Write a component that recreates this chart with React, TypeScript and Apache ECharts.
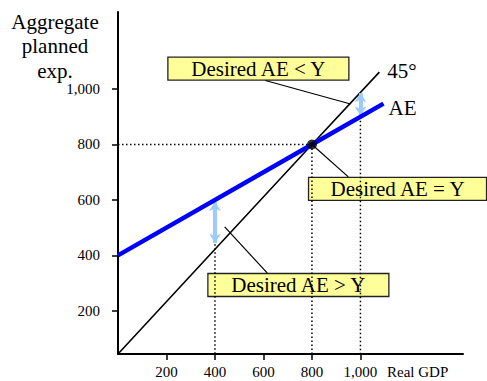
import { useEffect, useRef } from "react";
import * as echarts from "echarts";

// Axis ranges and tick values
const xRange = [0, 1423];
const yRange = [44, 1278];
const xTicks = [200, 400, 600, 800, 1000];
const yTicks = [200, 400, 600, 800, 1000];

// Aggregate planned expenditure: AE = 400 + 0.5 * Y
const aeGDP = [0, 800, 1095];
const aeValues = [400, 800, 947.5];

// 45-degree reference line from the origin corner
const diagGDP = [0, 800, 1078];
const diagValues = [44, 800, 1061];

// Equilibrium point
const equilibrium = [800, 800];

// Dotted guides to the axes
const guides = [
  [[0, 800], [800, 800]],
  [[400, 440], [400, 44]],
  [[800, 800], [800, 44]],
  [[1000, 900], [1000, 44]],
];

// Gaps between planned expenditure and output
const gapArrows = [
  [[400, 592], [400, 445]],
  [[1000, 985], [1000, 905]],
];

// Callout texts, box centres and leader lines
const calloutTexts = ["Desired AE < Y", "Desired AE = Y", "Desired AE > Y"];
const calloutCentres = [[579, 1074], [1153, 640], [744, 293]];
const calloutLeaders = [
  [[608, 1031], [959, 946]],
  [[800, 800], [950, 683]],
  [[616, 336], [440, 503]],
];

const SERIF = "Liberation Serif, Times New Roman, serif";
const boxWidths = [181, 178, 181];
const boxHeight = 23;

export default function App() {
  const ref = useRef<HTMLDivElement>(null);

  useEffect(() => {
    if (!ref.current) return;
    const chart = echarts.init(ref.current, null, { renderer: "svg" });

    const guideSeries = guides.map((g) => ({
      type: "line",
      data: g,
      symbol: "none",
      silent: true,
      lineStyle: { color: "#000", width: 1.5, type: [1.5, 2.5] },
      z: 1,
    }));

    const leaderSeries = calloutLeaders.map((l) => ({
      type: "line",
      data: l,
      symbol: "none",
      silent: true,
      lineStyle: { color: "#000", width: 1.2 },
      z: 3,
    }));

    chart.setOption({
      animation: false,
      grid: { left: 118, right: 24, top: 12, bottom: 27 },
      xAxis: {
        type: "value",
        min: xRange[0],
        max: xRange[1],
        splitLine: { show: false },
        axisLine: { show: true, lineStyle: { color: "#000", width: 2 } },
        axisTick: {
          show: true,
          length: 6,
          lineStyle: { color: "#000", width: 1.5 },
          customValues: xTicks,
        },
        axisLabel: {
          customValues: xTicks,
          margin: 10,
          color: "#000",
          fontSize: 15,
          fontFamily: SERIF,
          formatter: (v: number) => v.toLocaleString("en-US"),
        },
      },
      yAxis: {
        type: "value",
        min: yRange[0],
        max: yRange[1],
        splitLine: { show: false },
        axisLine: { show: true, lineStyle: { color: "#000", width: 2 } },
        axisTick: {
          show: true,
          length: 6,
          lineStyle: { color: "#000", width: 1.5 },
          customValues: yTicks,
        },
        axisLabel: {
          customValues: yTicks,
          margin: 18,
          color: "#000",
          fontSize: 15,
          fontFamily: SERIF,
          formatter: (v: number) => v.toLocaleString("en-US"),
        },
      },
      series: [
        ...guideSeries,
        {
          type: "line",
          name: "45°",
          data: diagGDP.map((x, i) => [x, diagValues[i]]),
          symbol: "none",
          lineStyle: { color: "#000", width: 1.6 },
          z: 4,
          endLabel: {
            show: true,
            formatter: "45°",
            distance: 8,
            offset: [0, -1],
            color: "#000",
            fontSize: 21,
            fontFamily: SERIF,
          },
        },
        {
          type: "line",
          name: "AE",
          data: aeGDP.map((x, i) => [x, aeValues[i]]),
          symbol: "none",
          lineStyle: { color: "#0000ff", width: 4.5 },
          z: 5,
          endLabel: {
            show: true,
            formatter: "AE",
            distance: 5,
            offset: [0, 4],
            color: "#000",
            fontSize: 21,
            fontFamily: SERIF,
          },
        },
        ...leaderSeries,
        {
          type: "line",
          data: [],
          silent: true,
          z: 6,
          markLine: {
            silent: true,
            symbol: ["arrow", "arrow"],
            symbolSize: [9, 9],
            label: { show: false },
            lineStyle: { color: "#9cccff", width: 4, type: "solid" },
            data: gapArrows.map((a) => [{ coord: a[0] }, { coord: a[1] }]),
          },
        },
        {
          type: "scatter",
          data: [equilibrium],
          symbol: "circle",
          symbolSize: 10,
          itemStyle: { color: "#000" },
          z: 7,
        },
      ],
    });

    const callouts = calloutTexts.map((text, i) => {
      const [cx, cy] = chart.convertToPixel({ gridIndex: 0 }, calloutCentres[i]) as number[];
      const w = boxWidths[i];
      return {
        type: "group",
        x: cx,
        y: cy,
        z: 10,
        children: [
          {
            type: "rect",
            shape: { x: -w / 2, y: -boxHeight / 2, width: w, height: boxHeight },
            style: { fill: "#ffff99", stroke: "#222", lineWidth: 1.3 },
          },
          {
            type: "text",
            style: {
              text,
              x: 0,
              y: 0,
              align: "center",
              verticalAlign: "middle",
              fontSize: 21,
              fontFamily: SERIF,
              fill: "#000",
            },
          },
        ],
      };
    });

    chart.setOption({
      graphic: [
        ...callouts,
        {
          type: "text",
          x: 55,
          y: 9.5,
          style: {
            text: "Aggregate\nplanned\nexp.",
            align: "center",
            verticalAlign: "top",
            lineHeight: 24.5,
            fontSize: 21,
            fontFamily: SERIF,
            fill: "#000",
          },
        },
        {
          type: "text",
          x: 387,
          y: 372,
          style: {
            text: "Real GDP",
            align: "left",
            verticalAlign: "middle",
            fontSize: 15,
            fontFamily: SERIF,
            fill: "#000",
          },
        },
      ],
    });

    return () => chart.dispose();
  }, []);

  return <div ref={ref} style={{ width: 487, height: 381, position: "absolute", left: 0, top: 0 }} />;
}
